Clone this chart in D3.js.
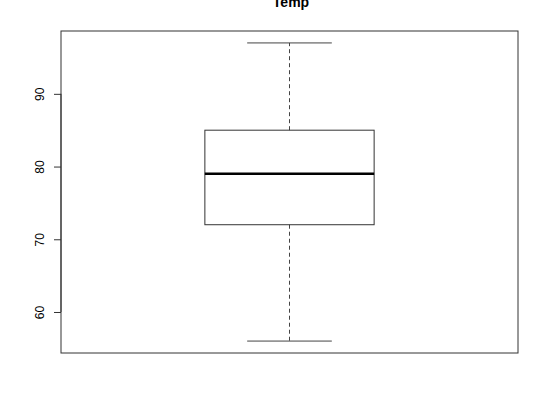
<!DOCTYPE html>
<html><head><meta charset="utf-8">
<script src="https://cdn.jsdelivr.net/npm/d3@7/dist/d3.min.js"></script>
<style>body{margin:0;background:#fff}svg{display:block}</style>
</head><body>
<svg id="c" width="550" height="400"></svg>
<script>
const title = "Temp";
const stats = {min: 56, q1: 72, median: 79, q3: 85, max: 97};
const yTicks = [60, 70, 80, 90];

const svg = d3.select("#c");
const L = 61, R = 518, T = 31, B = 353;
const lo = stats.min - 0.04 * (stats.max - stats.min);
const hi = stats.max + 0.04 * (stats.max - stats.min);
const y = d3.scaleLinear().domain([lo, hi]).range([B, T]);
const x = d3.scaleLinear().domain([0.46, 1.54]).range([L, R]);
const font = "Liberation Sans, Arial, sans-serif";

svg.append("text").attr("x", 291).attr("y", 7)
  .attr("text-anchor", "middle").attr("font-family", font)
  .attr("font-weight", "bold").attr("font-size", 14).text(title);

svg.append("rect").attr("x", L).attr("y", T).attr("width", R - L).attr("height", B - T)
  .attr("fill", "none").attr("stroke", "#333").attr("stroke-width", 1);

const ax = svg.append("g").attr("transform", `translate(${L},0)`)
  .call(d3.axisLeft(y).tickValues(yTicks).tickSize(7).tickPadding(0).tickFormat(d3.format("d")));
ax.select(".domain").remove();
ax.selectAll(".tick line").attr("stroke", "#333");
ax.selectAll(".tick text").remove();
ax.selectAll(".tick").append("text")
  .attr("transform", "translate(-21,0) rotate(-90)")
  .attr("text-anchor", "middle").attr("dy", "0.35em")
  .attr("fill", "#000").attr("font-family", font).attr("font-size", 12)
  .text(d => d);
svg.append("line").attr("x1", L).attr("x2", L)
  .attr("y1", y(yTicks[0])).attr("y2", y(yTicks[yTicks.length - 1])).attr("stroke", "#333");

const g = svg.append("g").attr("stroke", "#000").attr("fill", "none");
g.append("line").attr("x1", x(1)).attr("x2", x(1)).attr("y1", y(stats.q3)).attr("y2", y(stats.max))
  .attr("stroke-dasharray", "4,3").attr("stroke", "#444");
g.append("line").attr("x1", x(1)).attr("x2", x(1)).attr("y1", y(stats.q1)).attr("y2", y(stats.min))
  .attr("stroke-dasharray", "4,3").attr("stroke", "#444");
[stats.min, stats.max].forEach(v => g.append("line").attr("x1", x(0.9)).attr("x2", x(1.1))
  .attr("y1", y(v)).attr("y2", y(v)).attr("stroke", "#444"));
g.append("rect").attr("x", x(0.8)).attr("width", x(1.2) - x(0.8))
  .attr("y", y(stats.q3)).attr("height", y(stats.q1) - y(stats.q3)).attr("stroke", "#333");
g.append("line").attr("x1", x(0.8)).attr("x2", x(1.2)).attr("y1", y(stats.median)).attr("y2", y(stats.median))
  .attr("stroke-width", 2.5);
</script>
</body></html>
